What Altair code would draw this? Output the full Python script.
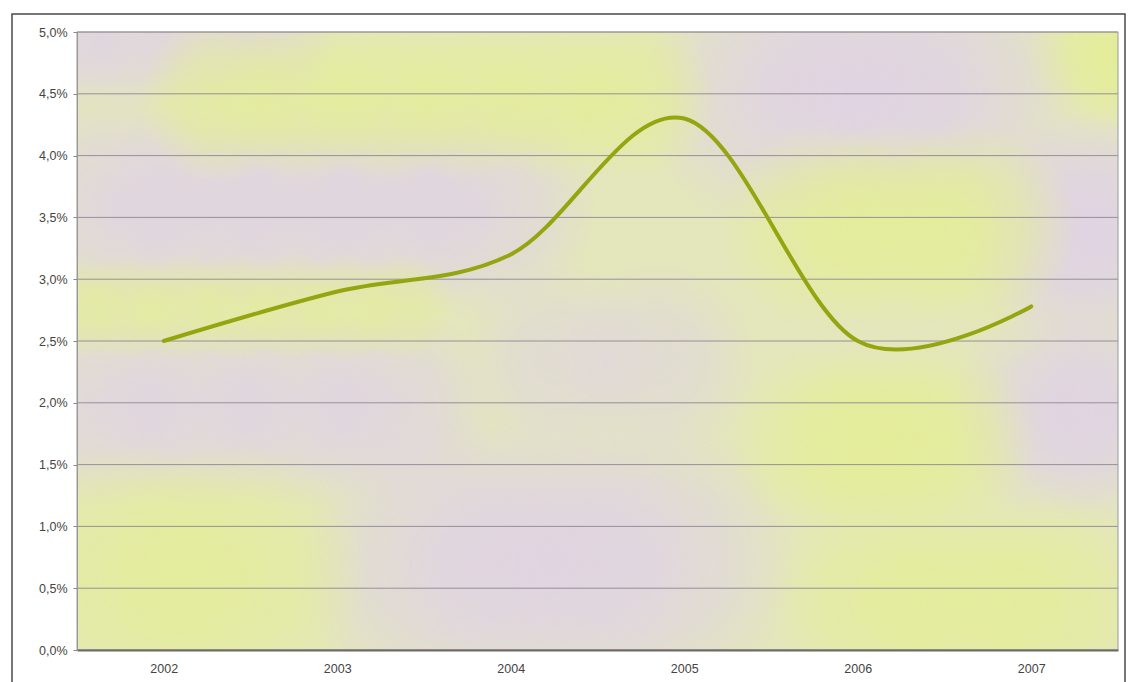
import math
import altair as alt
import pandas as pd

# ---- data ----
years = ["2002", "2003", "2004", "2005", "2006", "2007"]
rates = [2.5, 2.9, 3.2, 4.3, 2.5, 2.78]          # percent
y_ticks = [0.0, 0.5, 1.0, 1.5, 2.0, 2.5, 3.0, 3.5, 4.0, 4.5, 5.0]

W, H = 1041, 618
LAV = (223, 211, 229)
YEL = (228, 237, 152)
FONT = "Liberation Sans"

df = pd.DataFrame({"year": years, "rate": rates})
grid_df = pd.DataFrame({"v": y_ticks})
dummy = pd.DataFrame({"k": [0]})

x_enc = alt.X("year:O", scale=alt.Scale(type="point", padding=0.5),
              axis=alt.Axis(title=None, ticks=False, labelPadding=12, labelAngle=0,
                            domainColor="#6e6a66", domainWidth=2, zindex=1))
y_scale = alt.Scale(domain=[0, 5], nice=False, zero=True)


def grad(rgb, a):
    r, g, b = rgb
    return {
        "gradient": "radial",
        "x1": 0.5, "y1": 0.5, "r1": 0,
        "x2": 0.5, "y2": 0.5, "r2": 0.5,
        "stops": [
            {"offset": 0, "color": f"rgba({r},{g},{b},{a})"},
            {"offset": 0.5, "color": f"rgba({r},{g},{b},{a * 0.75})"},
            {"offset": 1, "color": f"rgba({r},{g},{b},0)"},
        ],
    }


def patch(rgb, x0, x1, y0, y1, a=0.75):
    """Soft patch made of overlapping square radial blobs."""
    w, h = x1 - x0, y1 - y0
    s = min(w, h)
    layers = []
    if w >= h:
        n = max(1, math.ceil((w - s) / (s * 0.5)) + 1)
        step = (w - s) / (n - 1) if n > 1 else 0
        for i in range(n):
            cx0 = x0 + i * step
            layers.append((cx0, cx0 + s, y0, y1))
    else:
        n = max(1, math.ceil((h - s) / (s * 0.5)) + 1)
        step = (h - s) / (n - 1) if n > 1 else 0
        for i in range(n):
            cy0 = y0 + i * step
            layers.append((x0, x1, cy0, cy0 + s))
    out = []
    for (a0, a1, b0, b1) in layers:
        out.append(alt.Chart(dummy).mark_rect(fill=grad(rgb, a), clip=True, strokeWidth=0).encode(
            x=alt.value(a0), x2=alt.value(a1), y=alt.value(b0), y2=alt.value(b1)))
    return out


blobs = []
for args in [
    # lavender patches
    (LAV, -80, 260, -60, 80),
    (LAV, 560, 1010, -80, 200),
    (LAV, -80, 520, 60, 290),
    (LAV, -80, 420, 270, 480),
    (LAV, 220, 720, 380, 680),
    (LAV, 880, 1140, 80, 320),
    (LAV, 870, 1140, 270, 490),
    (LAV, 380, 680, 230, 430, 0.55),
]:
    blobs += patch(*args)
for args in [
    # yellow patches
    (YEL, 60, 640, -20, 150),
    (YEL, 640, 1000, 90, 300),
    (YEL, 650, 960, 310, 510),
    (YEL, -80, 290, 410, 680),
    (YEL, 690, 1080, 460, 680),
    (YEL, -60, 380, 220, 330, 0.6),
    (YEL, 950, 1140, -60, 100),
]:
    blobs += patch(*args)

grid = alt.Chart(grid_df).mark_rule(color="#8a8290", strokeWidth=1, opacity=0.85).encode(
    y=alt.Y("v:Q", scale=y_scale))

line = alt.Chart(df).mark_line(
    interpolate="cardinal", tension=0, color="#94a510", strokeWidth=4,
    strokeCap="round").encode(
    x=x_enc,
    y=alt.Y("rate:Q", scale=y_scale,
            axis=alt.Axis(title=None, values=y_ticks, grid=False, tickSize=4,
                          tickColor="#888", domainColor="#999", labelPadding=6,
                          labelExpr="replace(format(datum.value, '.1f'), '.', ',') + '%'",
                          zindex=1)),
)

plot_border = alt.Chart(dummy).mark_rect(fill=None, stroke="#9a9a9a", strokeWidth=1, clip=False).encode(
    x=alt.value(0), x2=alt.value(W), y=alt.value(0), y2=alt.value(H))

outer_frame = alt.Chart(dummy).mark_rect(fill=None, stroke="#4a4a4a", strokeWidth=1.5, clip=False).encode(
    x=alt.value(-65), x2=alt.value(1048), y=alt.value(-18), y2=alt.value(700))

chart = alt.layer(*blobs, grid, line, plot_border, outer_frame).properties(
    width=W, height=H,
    padding={"left": 77, "top": 32, "right": 12, "bottom": 32},
    autosize=alt.AutoSizeParams(type="none"),
    background="white",
).configure_view(
    fill="#e4e6bc", stroke=None
).configure_axis(
    labelFont=FONT, labelFontSize=12.5, labelColor="#444444"
)

chart.save("out.html", embed_options={"renderer": "svg", "actions": False})
